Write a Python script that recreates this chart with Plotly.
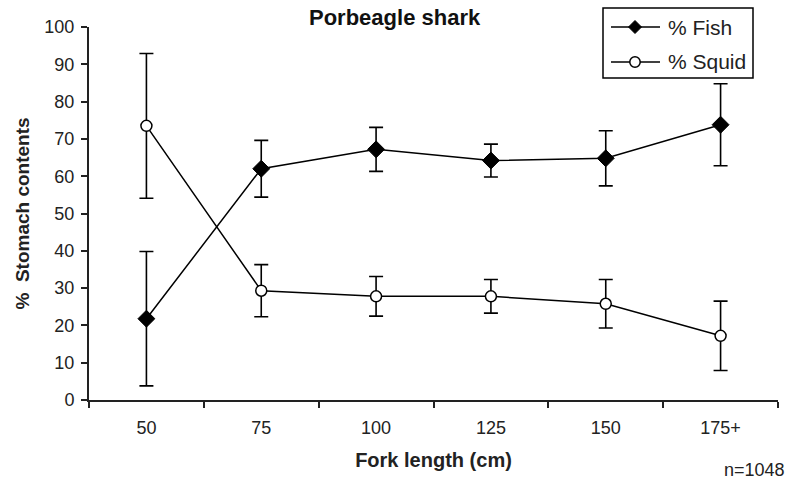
import plotly.graph_objects as go

# Fork-length classes and diet composition (% of stomach contents)
length_classes = ["50", "75", "100", "125", "150", "175+"]
fish_pct = [21.8, 62.0, 67.2, 64.2, 64.8, 73.8]
fish_err = [18.0, 7.6, 5.9, 4.4, 7.4, 11.0]
squid_pct = [73.5, 29.3, 27.8, 27.8, 25.8, 17.2]
squid_err = [19.4, 7.0, 5.3, 4.5, 6.5, 9.3]
series_names = ["% Fish", "% Squid"]

FONT = "Liberation Sans, Arial, sans-serif"

# plot-area geometry in pixels, used to place paper-referenced items
W, H = 789, 483
L, R, T, B = 89, 11, 27, 83
PW, PH = W - L - R, H - T - B


def px_x(x):
    return (x - L) / PW


def px_y(y):
    return (H - B - y) / PH


fig = go.Figure()

fig.add_trace(go.Scatter(
    x=length_classes, y=fish_pct, name=series_names[0],
    mode="lines+markers",
    line=dict(color="black", width=1.5),
    marker=dict(symbol="diamond", size=13, color="black",
                line=dict(color="black", width=1)),
    error_y=dict(type="data", array=fish_err, visible=True,
                 color="black", thickness=1.6, width=7),
))

fig.add_trace(go.Scatter(
    x=length_classes, y=squid_pct, name=series_names[1],
    mode="lines+markers",
    line=dict(color="black", width=1.5),
    marker=dict(symbol="circle", size=11, color="white",
                line=dict(color="black", width=1.5)),
    error_y=dict(type="data", array=squid_err, visible=True,
                 color="black", thickness=1.6, width=7),
))

fig.update_layout(
    width=W, height=H,
    margin=dict(l=L, r=R, t=T, b=B),
    paper_bgcolor="white", plot_bgcolor="white",
    font=dict(family=FONT, color="#222"),
    showlegend=False,
    xaxis=dict(
        type="category", range=[-0.5, 5.5],
        showline=True, linecolor="#222", linewidth=2,
        ticks="outside", tickson="boundaries", ticklen=6,
        tickcolor="#222", tickwidth=2,
        showgrid=False, zeroline=False,
        tickfont=dict(size=18, color="#222"),
        ticklabelstandoff=10,
        title=dict(text="<b>Fork length (cm)</b>", font=dict(size=20, color="#222"),
                   standoff=16),
    ),
    yaxis=dict(
        range=[0, 100], tickvals=list(range(0, 101, 10)),
        showline=True, linecolor="#222", linewidth=2,
        ticks="outside", ticklen=6, tickcolor="#222", tickwidth=2,
        showgrid=False, zeroline=False,
        tickfont=dict(size=18, color="#222"),
        ticklabelstandoff=3,
        title=dict(text="<b>%  Stomach contents</b>", font=dict(size=19, color="#222"),
                   standoff=10),
    ),
)

# ---- boxed legend drawn in the top-right corner ----
box = dict(x0=603, x1=753, y0=8, y1=78)
fig.add_shape(type="rect", xref="paper", yref="paper",
              x0=px_x(box["x0"]), x1=px_x(box["x1"]),
              y0=px_y(box["y1"]), y1=px_y(box["y0"]),
              line=dict(color="black", width=1.5), fillcolor="white", layer="above")

rows_y = [27, 62]
for name, ry, kind in zip(series_names, rows_y, ["diamond", "circle"]):
    fig.add_shape(type="line", xref="paper", yref="paper",
                  x0=px_x(611), x1=px_x(660), y0=px_y(ry), y1=px_y(ry),
                  line=dict(color="black", width=1.5), layer="above")
    cx = 635
    if kind == "diamond":
        r = 6.5
        path = (f"M {px_x(cx)},{px_y(ry - r)} L {px_x(cx + r)},{px_y(ry)} "
                f"L {px_x(cx)},{px_y(ry + r)} L {px_x(cx - r)},{px_y(ry)} Z")
        fig.add_shape(type="path", xref="paper", yref="paper", path=path,
                      fillcolor="black", line=dict(color="black", width=1),
                      layer="above")
    else:
        r = 5.2
        fig.add_shape(type="circle", xref="paper", yref="paper",
                      x0=px_x(cx - r), x1=px_x(cx + r),
                      y0=px_y(ry + r), y1=px_y(ry - r),
                      fillcolor="white", line=dict(color="black", width=1.5),
                      layer="above")
    fig.add_annotation(text=name, x=px_x(666), y=px_y(ry), xref="paper", yref="paper",
                       xanchor="left", yanchor="middle", showarrow=False,
                       font=dict(size=21, color="#222", family=FONT))

fig.add_annotation(
    text="<b>Porbeagle shark</b>", x=px_x(394.5), y=px_y(18),
    xref="paper", yref="paper", xanchor="center", yanchor="middle",
    showarrow=False, font=dict(size=22, color="#111", family=FONT),
)

fig.add_annotation(
    text="n=1048", x=px_x(787), y=px_y(470), xref="paper", yref="paper",
    xanchor="right", yanchor="middle", showarrow=False,
    font=dict(size=18, color="#222", family=FONT),
)

fig.write_html("out.html")
